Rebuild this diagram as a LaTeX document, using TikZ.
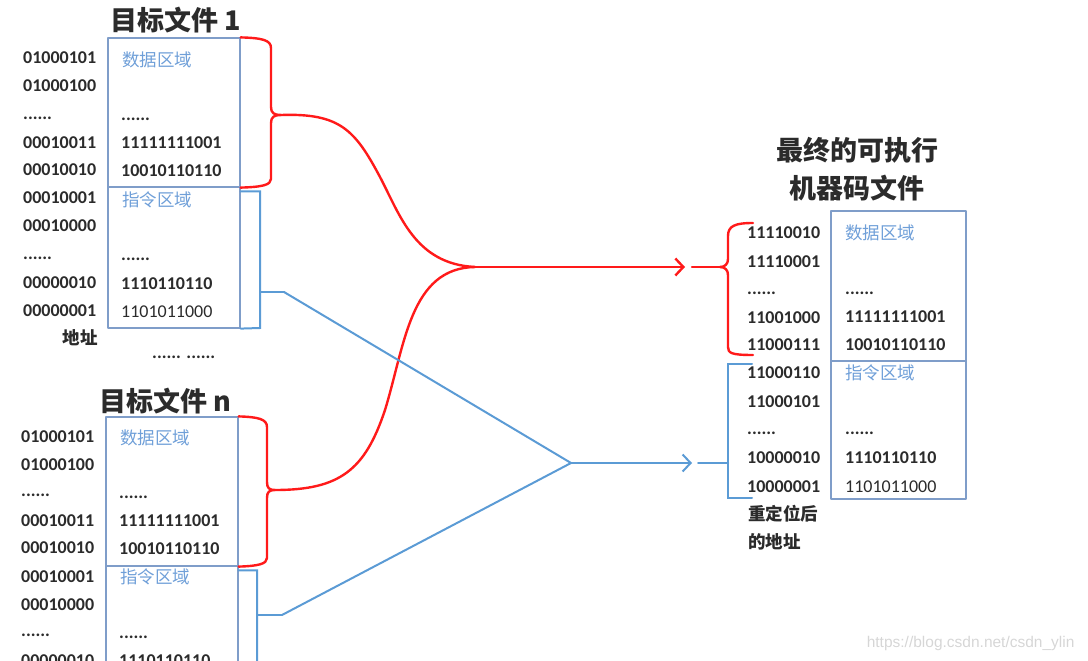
\documentclass[tikz,border=0pt]{standalone}
\usepackage{fontspec}
\setmainfont{Carlito}
\newfontfamily\cjk{Noto Sans CJK SC}
\newfontfamily\wmfont{Liberation Sans}
\usetikzlibrary{arrows.meta}
\definecolor{framegray}{HTML}{7F9DC9}
\definecolor{linkblue}{HTML}{5B9BD5}
\definecolor{areablue}{HTML}{6F9FD8}
\definecolor{linkred}{HTML}{FF1A1A}
\definecolor{ink}{HTML}{2B2B2B}

\begin{document}
\begin{tikzpicture}[
  x=1pt,y=-1pt,
  line cap=round,line join=round,
  addr/.style={anchor=west,inner sep=0pt,text=ink,
               font=\bfseries\fontsize{18}{20}\selectfont},
  plain/.style={anchor=west,inner sep=0pt,text=ink,
                font=\fontsize{18}{20}\selectfont},
  area/.style={anchor=west,inner sep=0pt,text=areablue,
               font=\cjk\fontsize{17.5}{20}\selectfont},
  head/.style={inner sep=0pt,text=ink,align=center,
               font=\cjk\bfseries\fontsize{27}{38}\selectfont},
  tag/.style={inner sep=0pt,text=ink,font=\cjk\bfseries\fontsize{17.5}{20}\selectfont},
  region/.style={draw=framegray,line width=1.2pt,inner sep=0pt},
  redline/.style={draw=linkred,line width=2.4pt},
  blueline/.style={draw=linkblue,line width=2pt,line join=miter},
  redarrow/.style={redline,-{Straight Barb[length=8pt,width=17pt]}},
  bluearrow/.style={blueline,-{Straight Barb[length=8pt,width=17pt]}}
]
\useasboundingbox (0,0) rectangle (1088,661);
\clip (0,0) rectangle (1088,661);

% Object file 1
\node[head] (title1) at (176,20) {目标文件 1};
\node[region,minimum width=132pt,minimum height=149pt] (data1) at (174,112.5) {};
\node[region,minimum width=132pt,minimum height=141pt] (code1) at (174,257.5) {};
\node[addr] (a1r1) at (23,58) {01000101};
\node[addr] (a1r2) at (23,86) {01000100};
\node[addr] (a1r3) at (23,118) {......};
\node[addr] (a1r4) at (23,143) {00010011};
\node[addr] (a1r5) at (23,170) {00010010};
\node[addr] (a1r6) at (23,198) {00010001};
\node[addr] (a1r7) at (23,226) {00010000};
\node[addr] (a1r8) at (23,258) {......};
\node[addr] (a1r9) at (23,283) {00000010};
\node[addr] (a1r10) at (23,311) {00000001};
\node[tag,anchor=east] (addr1) at (98,338) {地址};
\node[area] (d1name) at (122,60) {数据区域};
\node[addr] (d1r1) at (121,119) {......};
\node[addr] (d1r2) at (121,143) {11111111001};
\node[addr] (d1r3) at (121,171) {10010110110};
\node[area] (c1name) at (122,200) {指令区域};
\node[addr] (c1r1) at (121,259) {......};
\node[addr] (c1r2) at (121,284) {1110110110};
\node[plain] (c1r3) at (121,312) {1101011000};
\coordinate (cusp1) at (281,115);
\coordinate (tick1) at (284,292);
\draw[redline] (data1.north east) .. controls (262,38) and (271,40) .. (271,48)
  -- (271,107) .. controls (271,113) and (274,115) .. (cusp1)
  .. controls (274,115) and (271,117) .. (271,123)
  -- (271,179) .. controls (271,185) and (262,187) .. (data1.south east);
\draw[blueline] ([yshift=-5pt]code1.north east) -| (260,328) -- (code1.south east);
\draw[blueline] (260,292) -- (tick1);

\node[addr] (gap) at (152,357) {...... ......};

% Object file n
\node[head] (titlen) at (165,401) {目标文件 n};
\begin{scope}[shift={(-2,379)}]
  \node[region,minimum width=132pt,minimum height=149pt] (datan) at (174,112.5) {};
  \node[region,minimum width=132pt,minimum height=141pt] (coden) at (174,257.5) {};
  \node[addr] (anr1) at (23,58) {01000101};
  \node[addr] (anr2) at (23,86) {01000100};
  \node[addr] (anr3) at (23,116) {......};
  \node[addr] (anr4) at (23,142) {00010011};
  \node[addr] (anr5) at (23,169) {00010010};
  \node[addr] (anr6) at (23,198) {00010001};
  \node[addr] (anr7) at (23,226) {00010000};
  \node[addr] (anr8) at (23,256) {......};
  \node[addr] (anr9) at (23,282) {00000010};
  \node[area] (dnname) at (122,59) {数据区域};
  \node[addr] (dnr1) at (121,118) {......};
  \node[addr] (dnr2) at (121,142) {11111111001};
  \node[addr] (dnr3) at (121,170) {10010110110};
  \node[area] (cnname) at (122,198) {指令区域};
  \node[addr] (cnr1) at (121,258) {......};
  \node[addr] (cnr2) at (121,282) {1110110110};
  \coordinate (cuspn) at (277,111);
  \coordinate (tickn) at (284,236);
  \draw[redline] (datan.north east) .. controls (260,38) and (269,40) .. (269,48)
    -- (269,103) .. controls (269,109) and (271,111) .. (cuspn)
    .. controls (271,111) and (269,113) .. (269,119)
    -- (269,179) .. controls (269,185) and (260,187) .. (datan.south east);
  \draw[blueline] ([yshift=-5pt]coden.north east) -| (259,328) -- (coden.south east);
  \draw[blueline] (259,236) -- (tickn);
\end{scope}

% Executable file
\node[head] (exe) at (857,169) {最终的可执行\\机器码文件};
\node[region,minimum width=135pt,minimum height=150pt] (datax) at (898.5,286) {};
\node[region,minimum width=135pt,minimum height=138pt] (codex) at (898.5,430) {};
\node[addr] (axr1) at (747,233) {11110010};
\node[addr] (axr2) at (747,262) {11110001};
\node[addr] (axr3) at (747,293) {......};
\node[addr] (axr4) at (747,318) {11001000};
\node[addr] (axr5) at (747,345) {11000111};
\node[addr] (axr6) at (747,373) {11000110};
\node[addr] (axr7) at (747,402) {11000101};
\node[addr] (axr8) at (747,433) {......};
\node[addr] (axr9) at (747,458) {10000010};
\node[addr] (axr10) at (747,487) {10000001};
\node[tag,anchor=west] (reloc1) at (748,514) {重定位后};
\node[tag,anchor=west] (reloc2) at (748,542) {的地址};
\node[area] (dxname) at (845,233) {数据区域};
\node[addr] (dxr1) at (845,293) {......};
\node[addr] (dxr2) at (845,317) {11111111001};
\node[addr] (dxr3) at (845,345) {10010110110};
\node[area] (cxname) at (845,373) {指令区域};
\node[addr] (cxr1) at (845,433) {......};
\node[addr] (cxr2) at (845,458) {1110110110};
\node[plain] (cxr3) at (845,487) {1101011000};
\coordinate (rcusp) at (720,267);
\coordinate (bfoot) at (728,463);
\draw[redline] (753,223) .. controls (735,223) and (728,226) .. (728,236)
  -- (728,259) .. controls (728,264) and (725,267) .. (rcusp)
  .. controls (725,267) and (728,270) .. (728,275)
  -- (728,347) .. controls (728,353) and (731,355) .. (753,355);
\draw[blueline] (752,364) -| (728,498) -- (752,498);

% Links
\coordinate (join) at (475,267);
\coordinate (redtip) at (685,267);
\coordinate (redgap) at (692,267);
\coordinate (bjoin) at (571,463);
\coordinate (bluetip) at (692,463);
\coordinate (bluegap) at (698,463);
\draw[redline] (cusp1) .. controls (340,113) and (355,130) .. (380,177)
  .. controls (400,215) and (415,264) .. (join);
\draw[redline] (cuspn) .. controls (340,490) and (365,470) .. (385,410)
  .. controls (405,345) and (410,268) .. (join);
\draw[redarrow] (join) -- (redtip);
\draw[redline] (redgap) -- (rcusp);
\draw[blueline] (tick1) -- (bjoin);
\draw[blueline] (tickn) -- (bjoin);
\draw[bluearrow] (bjoin) -- (bluetip);
\draw[blueline] (bluegap) -- (bfoot);

\node[font=\wmfont\fontsize{15.5}{17}\selectfont,text=black!16,anchor=east] (mark)
  at (1078,643) {https://blog.csdn.net/csdn\_ylin};
\end{tikzpicture}
\end{document}
